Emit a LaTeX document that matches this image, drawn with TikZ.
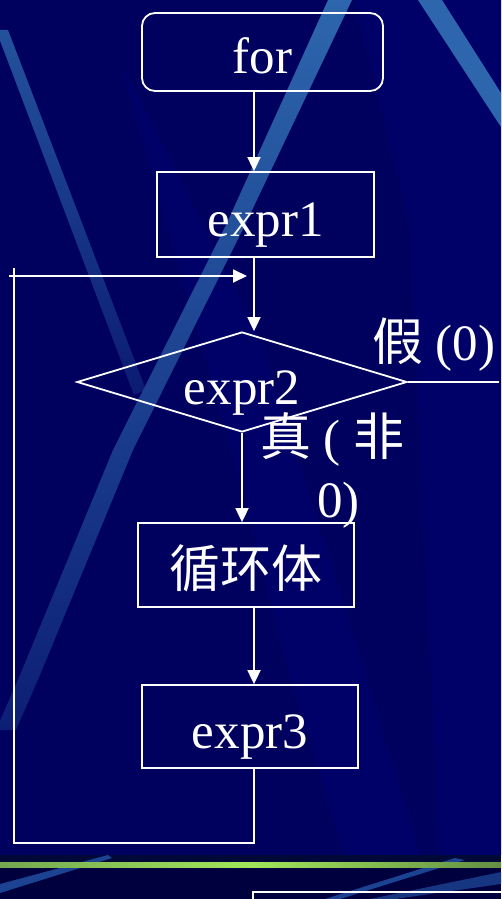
\documentclass[tikz,border=0pt]{standalone}
\usepackage{fontspec}
\setmainfont{Liberation Serif}
\newfontfamily\cjk{Noto Sans CJK SC}
\usetikzlibrary{shapes.geometric,arrows.meta}
\definecolor{bgnavy}{HTML}{00005E}
\definecolor{bglight}{HTML}{000069}
\definecolor{bgdark}{HTML}{00003E}
\definecolor{bgstrip}{HTML}{000838}
\definecolor{streak}{HTML}{2D66AC}
\definecolor{streakdim}{HTML}{1B4391}
\definecolor{barg}{HTML}{74A850}
\definecolor{barl}{HTML}{A2E65A}
\begin{document}
\begin{tikzpicture}[x=1pt,y=-1pt,
  font=\fontsize{51}{62}\selectfont,
  ln/.style={draw=white, line width=1.8pt},
  arr/.style={ln, -{Triangle[length=14pt,width=13pt]}},
  box/.style={draw=white, line width=1.8pt, text=white, inner sep=0pt,
    text height=48pt, text depth=4pt, rectangle},
  lbl/.style={text=white, inner sep=0pt}]
\useasboundingbox (0,0) rectangle (501,899);
\begin{scope}
\clip (0,0) rectangle (501,899);
% background
\fill[bgnavy] (0,0) rectangle (501,899);
\fill[bglight] (355,0) -- (501,0) -- (501,855) -- (440,855) -- (410,225) -- cycle;
\fill[bglight] (122,68) -- (130,80) -- (260,340) -- (330,560) -- (420,855)
  -- (345,855) -- (290,675) -- (232,450) -- cycle;
% streaks
\shade[top color=streak!80!bgnavy, bottom color=streakdim!40!bgnavy] (-4,30) -- (8,30) -- (146,390) -- (134,395) -- cycle;
\shade[top color=streak, bottom color=streakdim!45!bgnavy]
  (328,0) -- (352,0) -- (245,225) -- (133,450) -- (40,675) -- (16,730)
  -- (-4,730) -- (20,675) -- (113,450) -- (226,225) -- cycle;
\fill[streak] (418,0) -- (442,0) -- (501,93) -- (501,127) -- cycle;
% bottom band
\fill[bgdark] (0,855) rectangle (501,899);
\fill[bgstrip] (0,855) rectangle (501,862);
\fill[streakdim] (0,884) -- (108,855) -- (112,858) -- (0,893) -- cycle;
\fill[streakdim] (325,899) -- (455,858) -- (465,860) -- (340,899) -- cycle;
\fill[streakdim!80!bgdark] (370,899) -- (501,872) -- (501,884) -- (395,899) -- cycle;
\shade[left color=barg, right color=barg!85!black, middle color=barl] (0,862) rectangle (501,867);
\draw[ln] (253,892) rectangle (560,960);
\end{scope}
% flowchart nodes
\node[box, rounded corners=13pt, minimum width=241pt, minimum height=78pt] (start) at (262.5,52) {for};
\node[box, minimum width=217pt, minimum height=85pt] (e1) at (265.5,214.5) {expr1};
\node[box, diamond, aspect=3.3, minimum width=330pt, minimum height=100pt] (d) at (242,382) {expr2};
\node[box, minimum width=216pt, minimum height=84pt] (body) at (246,565) {\cjk 循环体};
\node[box, minimum width=216pt, minimum height=83pt] (e3) at (250,726.5) {expr3};
% labels
\node[lbl, anchor=base west] (fl) at (372,360) {{\cjk 假} (0)};
\node[lbl, anchor=base west] (tl1) at (260,455) {{\cjk 真} ( {\cjk 非}};
\node[lbl, anchor=base west] (tl2) at (317,517) {0)};
% coordinates
\coordinate (mx) at (254,0);
\coordinate (lpb) at (14,843);
\coordinate (lpt) at (14,268);
\coordinate (ls) at (9,276);
\coordinate (le) at (247,276);
\coordinate (fe) at (499,380);
% connectors
\draw[arr] (start.south -| mx) -- (e1.north -| mx);
\draw[arr] (e1.south -| mx) -- (d.north -| mx);
\draw[arr] (d.south) -- (d.south |- body.north);
\draw[arr] (body.south -| mx) -- (e3.north -| mx);
\draw[ln] (e3.south -| mx) |- (lpb) -- (lpt);
\draw[arr] (ls) -- (le);
\draw[ln] (d.east) -- (d.east -| fe);
\end{tikzpicture}
\end{document}
